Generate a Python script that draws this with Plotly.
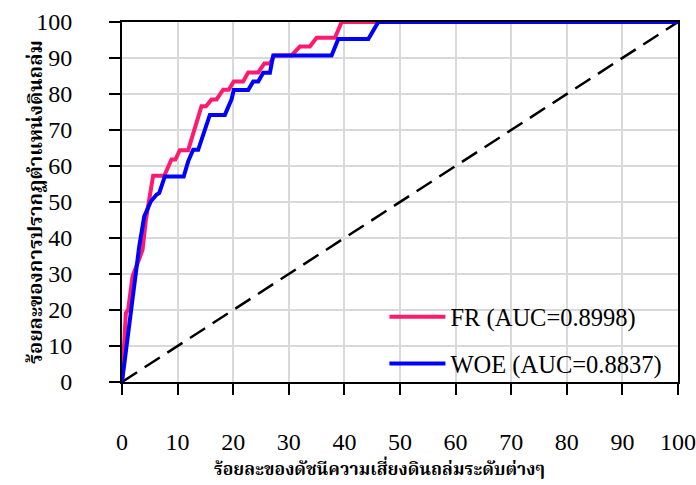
import plotly.graph_objects as go

fr_x = [0, 0.1, 0.4, 0.7, 1.1, 1.9, 2.8, 3.7, 4.3, 5.2, 5.6, 7.6, 8.9, 9.6, 10.4, 11.9,
        14.3, 15.1, 16.1, 17.0, 18.2, 19.2, 20.1, 21.8, 22.7, 24.5, 25.6, 26.6, 27.4,
        30.5, 32.0, 33.8, 35.0, 38.3, 39.5, 100]
fr_y = [0, 3.4, 9.9, 19.2, 20.1, 29.4, 33.0, 36.7, 45.1, 53.4, 57.3, 57.3, 61.8, 61.8,
        64.4, 64.4, 76.6, 76.6, 78.5, 78.5, 81.2, 81.2, 83.5, 83.5, 86.0, 86.0, 88.5,
        88.5, 90.7, 90.7, 93.2, 93.2, 95.6, 95.6, 100, 100]

woe_x = [0, 2.4, 3.1, 4.0, 5.2, 6.2, 6.7, 7.7, 11.1, 11.9, 12.8, 13.7, 14.9, 15.8, 18.5,
         19.7, 20.1, 22.7, 23.6, 24.5, 25.4, 26.6, 27.2, 37.7, 38.9, 44.3, 46.1, 100]
woe_y = [0, 29.0, 37.7, 46.0, 50.2, 52.0, 52.5, 57.1, 57.1, 61.3, 64.5, 64.5, 70.0, 74.2,
         74.2, 78.5, 81.1, 81.1, 83.5, 83.5, 85.9, 85.9, 90.7, 90.7, 95.3, 95.3, 100, 100]

ref_x = [0, 100]
ref_y = [0, 100]

names = ["FR (AUC=0.8998)", "WOE (AUC=0.8837)"]
x_title = "ร้อยละของดัชนีความเสี่ยงดินถล่มระดับต่างๆ"
y_title = "ร้อยละของการปรากฏตำแหน่งดินถล่ม"

serif = "Liberation Serif, Times New Roman, serif"
thai = "Kinnari, Norasi, Noto Serif Thai, Laksaman, Noto Sans Thai, Loma, Garuda, serif"

fig = go.Figure()
fig.add_trace(go.Scatter(x=ref_x, y=ref_y, mode="lines", showlegend=False,
                         line=dict(color="black", width=2.5, dash="18px,9px")))
fig.add_trace(go.Scatter(x=fr_x, y=fr_y, mode="lines", name=names[0], legendgroup="a",
                         line=dict(color="#FF1A6E", width=4)))
fig.add_trace(go.Scatter(x=woe_x, y=woe_y, mode="lines", name=names[1], legendgroup="b",
                         line=dict(color="#0000FF", width=4)))

axis_common = dict(range=[0, 100], dtick=10, showgrid=True, gridcolor="#D9D9D9", gridwidth=1.5,
                   showline=True, linecolor="black", linewidth=2, mirror=True,
                   ticks="outside", ticklen=11, tickwidth=2, tickcolor="black",
                   tickfont=dict(family=serif, size=24, color="black"), zeroline=False,
                   automargin=False)

fig.update_xaxes(**axis_common, ticklabelstandoff=26)
fig.update_yaxes(**axis_common, ticklabelstandoff=32)

fig.add_annotation(text=x_title, xref="paper", yref="paper", x=(379 - 122) / 556,
                   y=-(470 - 382) / 360, xanchor="center", yanchor="middle", showarrow=False,
                   font=dict(family=thai, size=17.5, color="black", weight="bold"))
fig.add_annotation(text=y_title, xref="paper", yref="paper", x=-(122 - 37) / 556, y=0.5,
                   xanchor="center", yanchor="middle", textangle=-90, showarrow=False,
                   font=dict(family=thai, size=20, color="black", weight="bold"))

fig.update_layout(
    width=696, height=485,
    margin=dict(l=122, r=18, t=22, b=103),
    plot_bgcolor="white", paper_bgcolor="white",
    legend=dict(x=0.472, y=-0.012, xanchor="left", yanchor="bottom", bgcolor="rgba(0,0,0,0)",
                font=dict(family=serif, size=24.5, color="black"), tracegroupgap=12,
                traceorder="grouped", itemwidth=56),
)

fig.write_html("out.html")
